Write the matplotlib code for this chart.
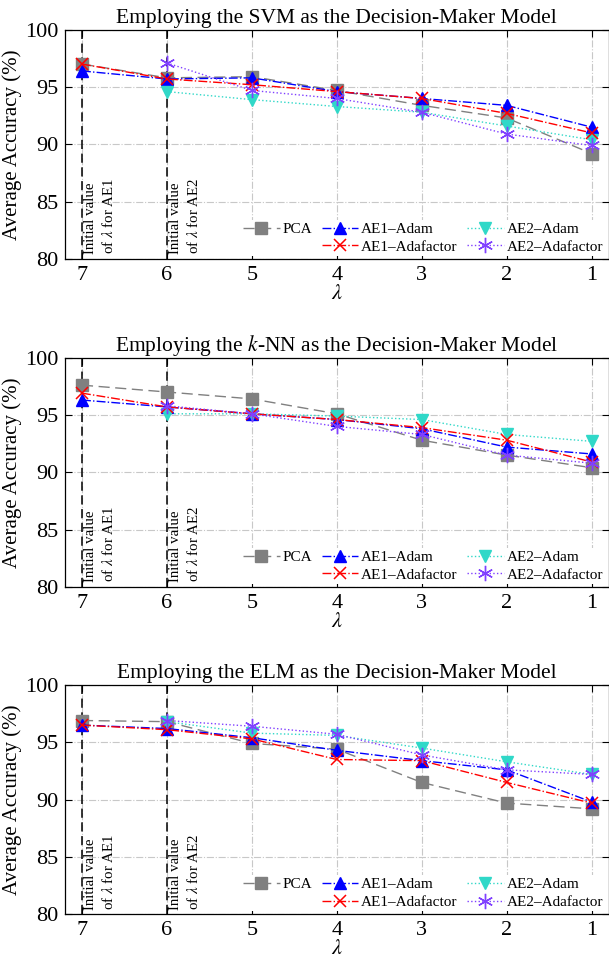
import matplotlib
matplotlib.use('Agg')
import matplotlib.pyplot as plt
from matplotlib.lines import Line2D

plt.rcParams['font.family'] = ['Liberation Serif', 'DejaVu Serif']
plt.rcParams['mathtext.fontset'] = 'stix'

lam = [7, 6, 5, 4, 3, 2, 1]
lam_ae2 = [6, 5, 4, 3, 2, 1]

titles = ['Employing the SVM as the Decision-Maker Model',
          'Employing the $k$-NN as the Decision-Maker Model',
          'Employing the ELM as the Decision-Maker Model']

# SVM
svm_pca = [97.0, 95.8, 95.9, 94.7, 93.4, 92.3, 89.2]
svm_ae1_adam = [96.4, 95.7, 95.8, 94.6, 94.0, 93.4, 91.5]
svm_ae1_adaf = [97.0, 95.7, 95.2, 94.6, 94.0, 92.7, 91.0]
svm_ae2_adam = [94.6, 93.9, 93.3, 92.8, 91.6, 90.4]
svm_ae2_adaf = [97.1, 94.7, 94.0, 92.8, 90.9, 89.9]

# k-NN
knn_pca = [97.6, 97.0, 96.4, 95.1, 92.8, 91.5, 90.4]
knn_ae1_adam = [96.3, 95.7, 95.1, 94.6, 93.8, 92.2, 91.6]
knn_ae1_adaf = [96.9, 95.7, 95.1, 94.6, 93.9, 92.8, 90.9]
knn_ae2_adam = [95.1, 95.1, 94.9, 94.6, 93.3, 92.7]
knn_ae2_adaf = [95.8, 95.1, 94.0, 93.3, 91.5, 90.8]

# ELM
elm_pca = [96.9, 96.8, 94.9, 94.4, 91.5, 89.7, 89.2]
elm_ae1_adam = [96.5, 96.2, 95.4, 94.3, 93.4, 92.6, 89.8]
elm_ae1_adaf = [96.5, 96.1, 95.3, 93.5, 93.4, 91.5, 89.7]
elm_ae2_adam = [96.8, 95.8, 95.6, 94.5, 93.3, 92.2]
elm_ae2_adaf = [96.9, 96.4, 95.7, 93.9, 92.6, 92.2]

data = [
    (svm_pca, svm_ae1_adam, svm_ae1_adaf, svm_ae2_adam, svm_ae2_adaf),
    (knn_pca, knn_ae1_adam, knn_ae1_adaf, knn_ae2_adam, knn_ae2_adaf),
    (elm_pca, elm_ae1_adam, elm_ae1_adaf, elm_ae2_adam, elm_ae2_adaf),
]

c_pca = '#808080'
c_ae1_adam = '#0000ff'
c_ae1_adaf = '#ff0000'
c_ae2_adam = '#30d8c8'
c_ae2_adaf = '#8040ff'
asterisk = (6, 2, 0)

fig = plt.figure(figsize=(6.09, 9.76), dpi=100)
bottoms = [0.7346, 0.3986, 0.0632]
for i in range(3):
    ax = fig.add_axes([0.1067, bottoms[i], 0.8925, 0.2350])
    pca, a1, a1f, a2, a2f = data[i]

    ax.axvline(7, color='k', ls=(0, (6, 3)), lw=1.1, zorder=1)
    ax.axvline(6, color='k', ls=(0, (6, 3)), lw=1.1, zorder=1)

    l_pca, = ax.plot(lam, pca, ls=(0, (8, 4)), color=c_pca, lw=1.0, marker='s',
                     ms=8, mfc=c_pca, mec=c_pca, label='PCA', zorder=3)
    l_a1, = ax.plot(lam, a1, ls='-.', color=c_ae1_adam, lw=1.0, marker='^',
                    ms=8, mfc=c_ae1_adam, mec=c_ae1_adam, label='AE1–Adam', zorder=4)
    l_a1f, = ax.plot(lam, a1f, ls='-.', color=c_ae1_adaf, lw=1.0, marker='x',
                     ms=9, mew=1.1, label='AE1–Adafactor', zorder=5)
    l_a2, = ax.plot(lam_ae2, a2, ls=':', color=c_ae2_adam, lw=1.0, marker='v',
                    ms=8, mfc=c_ae2_adam, mec=c_ae2_adam, label='AE2–Adam', zorder=4)
    l_a2f, = ax.plot(lam_ae2, a2f, ls=':', color=c_ae2_adaf, lw=1.0, marker=asterisk,
                     ms=11, mew=1.0, label='AE2–Adafactor', zorder=5)

    for xv, name in [(7, 'AE1'), (6, 'AE2')]:
        ax.text(xv - 0.02, 80.4, 'Initial value\nof $\\lambda$ for ' + name,
                rotation=90, rotation_mode='anchor', ha='left', va='top',
                fontsize=10.7, linespacing=1.4, zorder=2)

    ax.set_xlim(7.2, 0.8)
    ax.set_ylim(80, 100)
    ax.set_xticks(lam)
    ax.set_yticks([80, 85, 90, 95, 100])
    ax.grid(True, color='#c8c8c8', ls='-.', lw=0.8, zorder=0)
    ax.set_axisbelow(True)
    ax.tick_params(direction='in', top=True, right=True, length=5,
                   labelsize=16, pad=5)
    for s in ax.spines.values():
        s.set_linewidth(0.9)

    ax.set_title(titles[i], fontsize=15.5, pad=5)
    ax.set_ylabel('Average Accuracy (%)', fontsize=15, labelpad=2)
    ax.set_xlabel('$\\lambda$', fontsize=16, labelpad=0)

    blank = Line2D([], [], ls='none', marker='none')
    handles = [l_pca, blank, l_a1, l_a1f, l_a2, l_a2f]
    labels = ['PCA', '', 'AE1–Adam', 'AE1–Adafactor', 'AE2–Adam', 'AE2–Adafactor']
    leg = ax.legend(handles, labels, ncol=3, loc='lower right', fontsize=11,
                    frameon=True, framealpha=1, edgecolor='none', fancybox=False,
                    handlelength=2.4, handletextpad=0.2, columnspacing=0.6,
                    labelspacing=0.25, borderpad=0.15, borderaxespad=0.2)
    leg.get_frame().set_linewidth(0)

fig.savefig('out.png', dpi=100)
